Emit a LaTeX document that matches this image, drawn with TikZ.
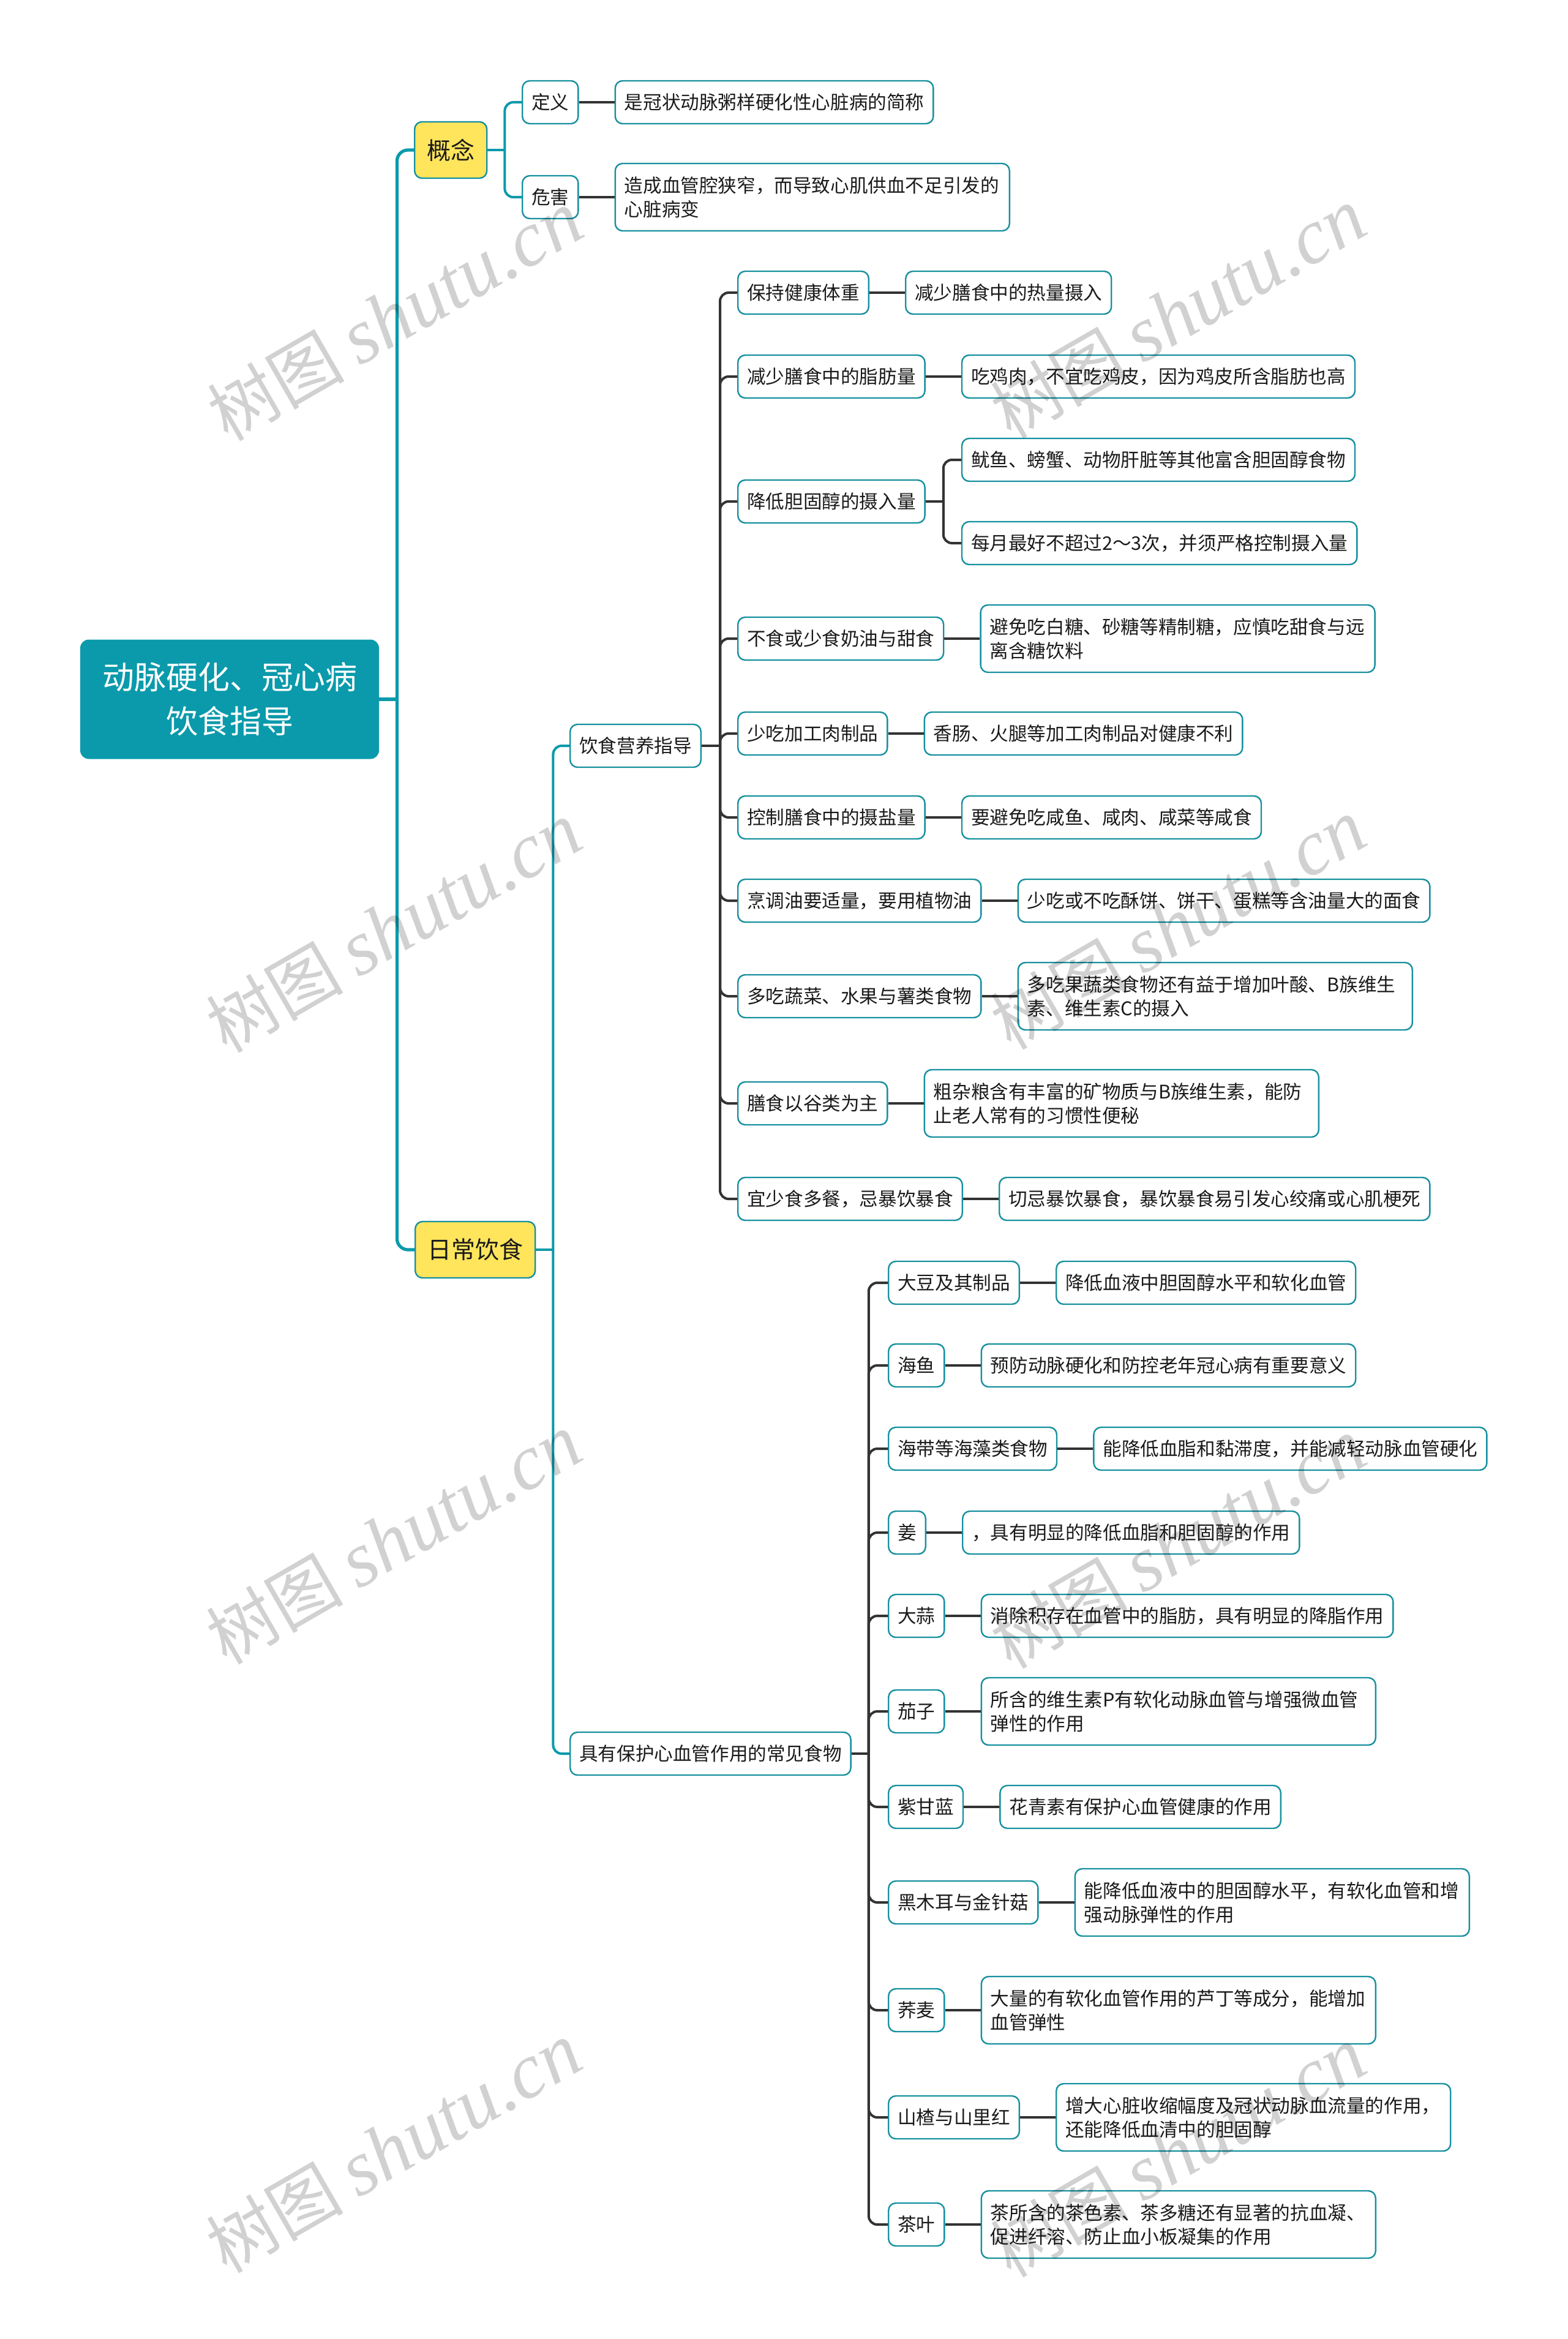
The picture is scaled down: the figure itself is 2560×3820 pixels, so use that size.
\documentclass[tikz,border=0pt]{standalone}
\usepackage{fontspec}
\setmainfont{Noto Sans CJK SC}
\newfontfamily\wmlat{Liberation Serif}
\usetikzlibrary{calc,positioning}
\definecolor{teal1}{HTML}{0A9AAB}
\definecolor{tborder}{HTML}{17909F}
\definecolor{ylw}{HTML}{FFE55C}
\definecolor{dk}{HTML}{333333}
\definecolor{txt}{HTML}{1A1A1A}
\tikzset{
 rootbox/.style={fill=teal1, rounded corners=7pt, text=white, font=\fontsize{26pt}{36pt}\selectfont, align=center, minimum width=244pt, minimum height=97.5pt, inner sep=0pt},
 ybox/.style={fill=ylw, draw=tborder, line width=1.2pt, rounded corners=6pt, text=txt, font=\fontsize{19.5pt}{24pt}\selectfont, inner xsep=10pt, inner ysep=0pt, minimum height=46pt, anchor=west},
 box/.style={fill=white, draw=tborder, line width=1.2pt, rounded corners=6pt, text=txt, font=\fontsize{15.3pt}{19.5pt}\selectfont, inner xsep=7.5pt, inner ysep=0pt, minimum height=35pt, anchor=west},
 wbox/.style={box, text width=307pt, align=left, minimum height=55pt},
 tmain/.style={draw=teal1, line width=2.6pt, rounded corners=9pt},
 tsub/.style={draw=teal1, line width=2pt, rounded corners=7pt},
 dline/.style={draw=dk, line width=2pt, rounded corners=7pt},
 wm/.style={text=black, text opacity=0.18, rotate=30, inner sep=0pt, font=\fontsize{56pt}{60pt}\selectfont},
}
\newcommand{\wmtext}{树图 {\wmlat\itshape\fontsize{64pt}{70pt}\selectfont shutu.cn}}
\begin{document}
\begin{tikzpicture}[x=0.5pt,y=-0.5pt]
\useasboundingbox[fill=white] (0,0) rectangle (2560,3820);

% root and main branches
\node[rootbox] (root) at (375,1142) {动脉硬化、冠心病\\饮食指导};
\node[ybox] (gn) at (676,245) {概念};
\node[ybox] (rc) at (677,2041) {日常饮食};

% concept
\node[box] (dy) at (852,167) {定义};
\node[box] (wh) at (852,322) {危害};
\node[box, right=29pt of dy] (dyd) {是冠状动脉粥样硬化性心脏病的简称};
\node[wbox, right=29pt of wh] (whd) {造成血管腔狭窄，而导致心肌供血不足引发的\\心脏病变};

% daily diet
\node[box] (yy) at (930,1218) {饮食营养指导};
\node[box] (cj) at (930,2864) {具有保护心血管作用的常见食物};

% nutrition guidance
\node[box] (a1) at (1204,478) {保持健康体重};
\node[box] (a2) at (1204,615) {减少膳食中的脂肪量};
\node[box] (a3) at (1204,819) {降低胆固醇的摄入量};
\node[box] (a4) at (1204,1043) {不食或少食奶油与甜食};
\node[box] (a5) at (1204,1198) {少吃加工肉制品};
\node[box] (a6) at (1204,1335) {控制膳食中的摄盐量};
\node[box] (a7) at (1204,1471) {烹调油要适量，要用植物油};
\node[box] (a8) at (1204,1627) {多吃蔬菜、水果与薯类食物};
\node[box] (a9) at (1204,1802) {膳食以谷类为主};
\node[box] (a10) at (1204,1958) {宜少食多餐，忌暴饮暴食};

\node[box, right=29pt of a1] (a1d) {减少膳食中的热量摄入};
\node[box, right=29pt of a2] (a2d) {吃鸡肉，不宜吃鸡皮，因为鸡皮所含脂肪也高};
\coordinate (j3) at ($(a3.east)+(29,0)$);
\node[box] (a3a) at ($(j3)+(29,-68)$) {鱿鱼、螃蟹、动物肝脏等其他富含胆固醇食物};
\node[box] (a3b) at ($(j3)+(29,68)$) {每月最好不超过2～3次，并须严格控制摄入量};
\node[wbox, right=29pt of a4] (a4d) {避免吃白糖、砂糖等精制糖，应慎吃甜食与远\\离含糖饮料};
\node[box, right=29pt of a5] (a5d) {香肠、火腿等加工肉制品对健康不利};
\node[box, right=29pt of a6] (a6d) {要避免吃咸鱼、咸肉、咸菜等咸食};
\node[box, right=29pt of a7] (a7d) {少吃或不吃酥饼、饼干、蛋糕等含油量大的面食};
\node[wbox, right=29pt of a8] (a8d) {多吃果蔬类食物还有益于增加叶酸、B族维生\\素、维生素C的摄入};
\node[wbox, right=29pt of a9] (a9d) {粗杂粮含有丰富的矿物质与B族维生素，能防\\止老人常有的习惯性便秘};
\node[box, right=29pt of a10] (a10d) {切忌暴饮暴食，暴饮暴食易引发心绞痛或心肌梗死};

% common foods
\node[box] (b1) at (1450,2095) {大豆及其制品};
\node[box] (b2) at (1450,2230) {海鱼};
\node[box] (b3) at (1450,2366) {海带等海藻类食物};
\node[box] (b4) at (1450,2503) {姜};
\node[box] (b5) at (1450,2639) {大蒜};
\node[box] (b6) at (1450,2795) {茄子};
\node[box] (b7) at (1450,2951) {紫甘蓝};
\node[box] (b8) at (1450,3107) {黑木耳与金针菇};
\node[box] (b9) at (1450,3283) {荞麦};
\node[box] (b10) at (1450,3458) {山楂与山里红};
\node[box] (b11) at (1450,3633) {茶叶};

\node[box, right=29pt of b1] (b1d) {降低血液中胆固醇水平和软化血管};
\node[box, right=29pt of b2] (b2d) {预防动脉硬化和防控老年冠心病有重要意义};
\node[box, right=29pt of b3] (b3d) {能降低血脂和黏滞度，并能减轻动脉血管硬化};
\node[box, right=29pt of b4] (b4d) {，具有明显的降低血脂和胆固醇的作用};
\node[box, right=29pt of b5] (b5d) {消除积存在血管中的脂肪，具有明显的降脂作用};
\node[wbox, right=29pt of b6] (b6d) {所含的维生素P有软化动脉血管与增强微血管\\弹性的作用};
\node[box, right=29pt of b7] (b7d) {花青素有保护心血管健康的作用};
\node[wbox, right=29pt of b8] (b8d) {能降低血液中的胆固醇水平，有软化血管和增\\强动脉弹性的作用};
\node[wbox, right=29pt of b9] (b9d) {大量的有软化血管作用的芦丁等成分，能增加\\血管弹性};
\node[wbox, right=29pt of b10] (b10d) {增大心脏收缩幅度及冠状动脉血流量的作用，\\还能降低血清中的胆固醇};
\node[wbox, right=29pt of b11] (b11d) {茶所含的茶色素、茶多糖还有显著的抗血凝、\\促进纤溶、防止血小板凝集的作用};

% connectors
\coordinate (jr) at ($(root.east)+(29,0)$);
\draw[tmain] (root.east) -- (jr);
\draw[tmain] (jr) |- (gn.west);
\draw[tmain] (jr) |- (rc.west);

\coordinate (jg) at ($(gn.east)+(28,0)$);
\draw[tsub] (gn.east) -- (jg);
\draw[tsub] (jg) |- (dy.west);
\draw[tsub] (jg) |- (wh.west);
\draw[dline] (dy.east) -- (dyd.west);
\draw[dline] (wh.east) -- (whd.west);

\coordinate (jc) at ($(rc.east)+(28,0)$);
\draw[tsub] (rc.east) -- (jc);
\draw[tsub] (jc) |- (yy.west);
\draw[tsub] (jc) |- (cj.west);

\coordinate (jy) at ($(yy.east)+(30,0)$);
\draw[dline] (yy.east) -- (jy);
\foreach \n in {a1,a2,a3,a4,a5,a6,a7,a8,a9,a10}{
  \draw[dline] (jy) |- (\n.west);
}
\foreach \n in {a1,a2,a4,a5,a6,a7,a8,a9,a10}{
  \draw[dline] (\n.east) -- (\n d.west);
}
\draw[dline] (a3.east) -- (j3);
\draw[dline] (j3) |- (a3a.west);
\draw[dline] (j3) |- (a3b.west);

\coordinate (jf) at ($(cj.east)+(28,0)$);
\draw[dline] (cj.east) -- (jf);
\foreach \n in {b1,b2,b3,b4,b5,b6,b7,b8,b9,b10,b11}{
  \draw[dline] (jf) |- (\n.west);
  \draw[dline] (\n.east) -- (\n d.west);
}

% watermarks
\node[wm] (w1) at (645,516) {\wmtext};
\node[wm] (w2) at (1924,512) {\wmtext};
\node[wm] (w3) at (643,1515) {\wmtext};
\node[wm] (w4) at (1924,1510) {\wmtext};
\node[wm] (w5) at (643,2514) {\wmtext};
\node[wm] (w6) at (1924,2521) {\wmtext};
\node[wm] (w7) at (643,3508) {\wmtext};
\node[wm] (w8) at (1924,3515) {\wmtext};
\end{tikzpicture}
\end{document}
